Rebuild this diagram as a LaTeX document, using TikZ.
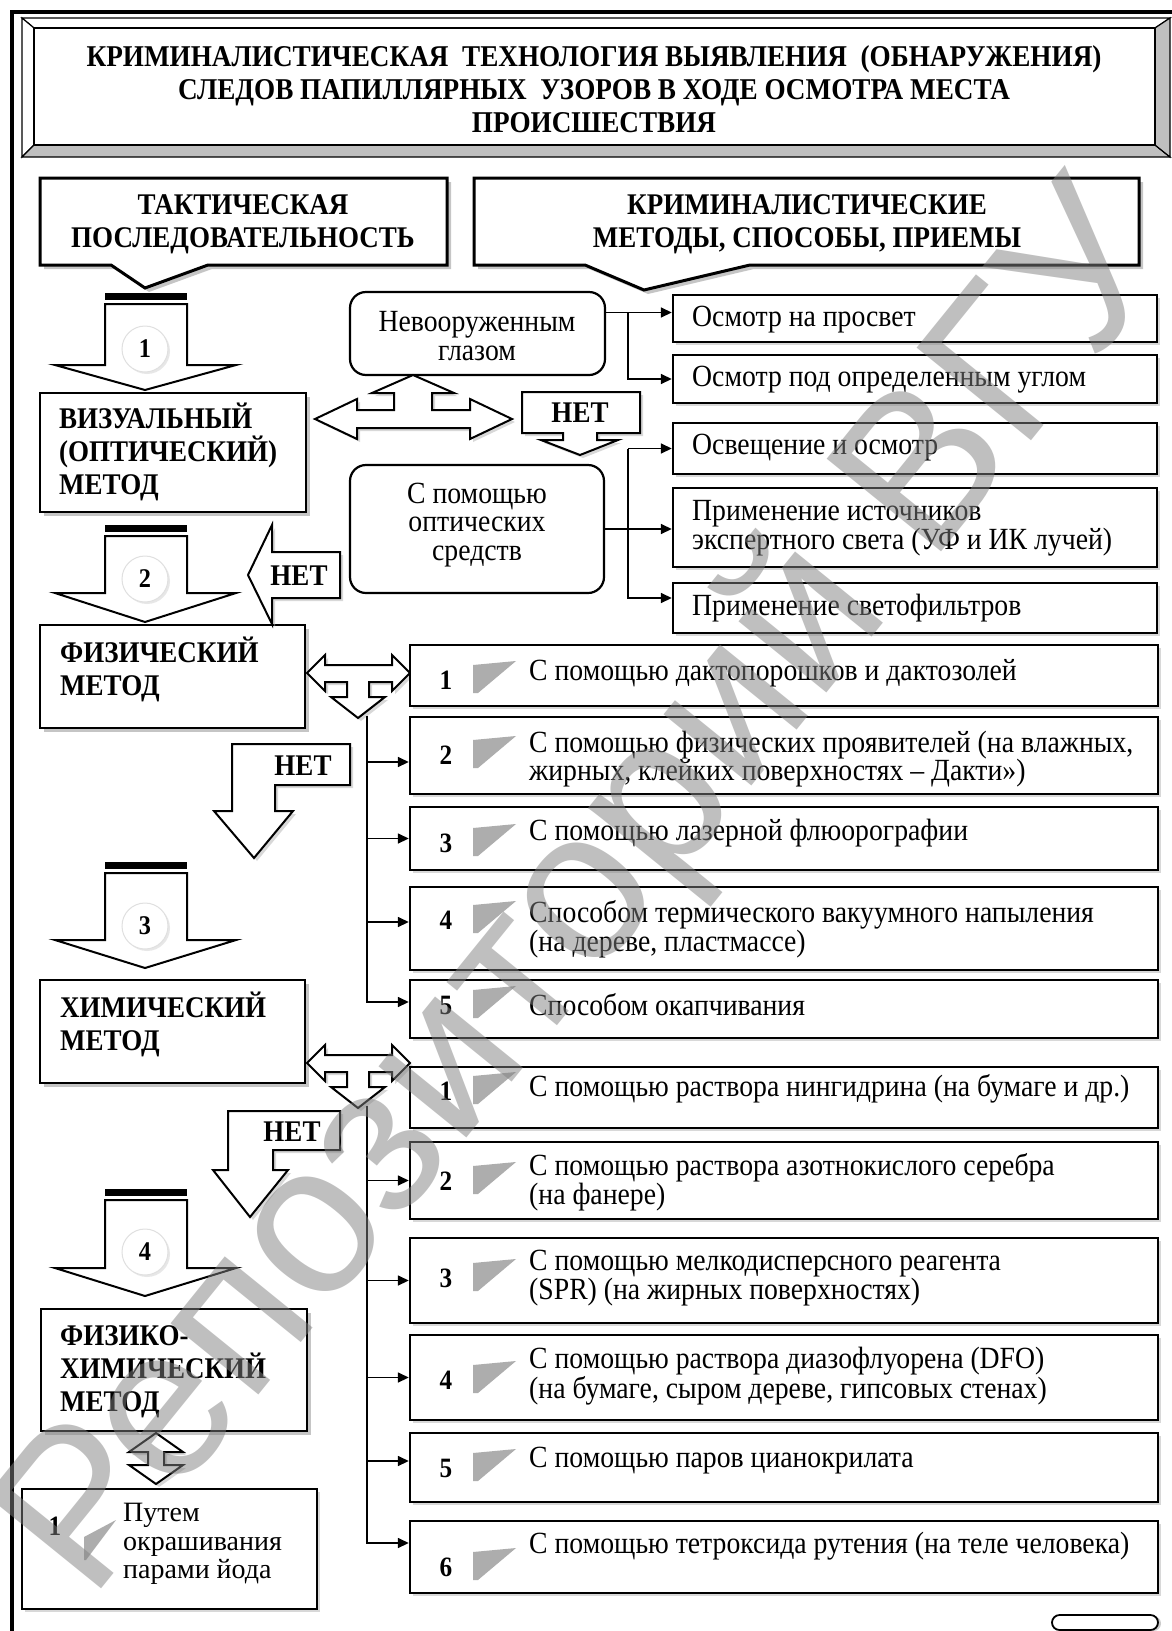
\documentclass[tikz,border=0pt]{standalone}
\usepackage{fontspec}
\setmainfont{Liberation Serif}[FakeStretch=0.9]
\newfontfamily\plainserif{Liberation Serif}
\newfontfamily\wmfont{Liberation Sans}
\usetikzlibrary{fit,shadows,arrows.meta,calc}
\begin{document}
\begin{tikzpicture}[x=1pt,y=-1pt,
  shd/.style={drop shadow={shadow xshift=4pt,shadow yshift=-4pt,fill=black!45}},
  shs/.style={drop shadow={shadow xshift=3pt,shadow yshift=-3pt,fill=black!30}},
  mbox/.style={draw,line width=2.6pt,fill=white,inner sep=0pt,shd},
  rbox/.style={draw,line width=2.4pt,fill=white,inner sep=0pt,shs},
  rnd/.style={draw,line width=2.2pt,fill=white,rounded corners=16pt,inner sep=0pt},
  callout/.style={draw,line width=3pt,fill=white,line join=miter,shd},
  blk/.style={draw,line width=2pt,fill=white,line join=miter},
  conn/.style={line width=1.6pt,-{Triangle[length=11pt,width=10pt]}},
  plain/.style={line width=1.6pt},
  ttl/.style={font=\fontsize{30.2}{33}\selectfont\bfseries,inner sep=0pt},
  hb/.style={font=\fontsize{30}{33}\selectfont\bfseries,inner sep=0pt},
  tx/.style={font=\fontsize{30.8}{28.5}\selectfont,inner sep=0pt},
  num/.style={font=\fontsize{28}{28}\selectfont\bfseries,inner sep=0pt},
  circ/.style={circle,minimum size=46pt,inner sep=0pt,draw=black!12,line width=1pt,fill=white,
    drop shadow={shadow xshift=2pt,shadow yshift=-2pt,fill=black!18},
    font=\fontsize{27}{27}\selectfont\bfseries},
  wedgec/.style={fill=black!32,draw=none},
]
\useasboundingbox (0,0) rectangle (1172,1631);

% outer frame
\draw[line width=4pt,line join=miter] (11.5,1631) -- (11.5,12) -- (1172,12);

% title bevel
\draw[line width=1.2pt,fill=white] (22,18) -- (1170,18) -- (1155,28) -- (34,28) -- cycle;
\draw[line width=1.2pt,fill=white] (22,18) -- (34,28) -- (34,145) -- (22,157) -- cycle;
\draw[line width=1.2pt,fill=black!25] (22,157) -- (34,145) -- (1155,145) -- (1170,157) -- cycle;
\draw[line width=1.2pt,fill=black!25] (1170,18) -- (1155,28) -- (1155,145) -- (1170,157) -- cycle;
\node[draw,line width=2pt,inner sep=0pt,fit={(34,28) (1155,145)}] (titlebox) {};
\node[ttl,align=center] (title) at (594,89) {КРИМИНАЛИСТИЧЕСКАЯ \ ТЕХНОЛОГИЯ ВЫЯВЛЕНИЯ \ (ОБНАРУЖЕНИЯ)\\СЛЕДОВ ПАПИЛЛЯРНЫХ \ УЗОРОВ В ХОДЕ ОСМОТРА МЕСТА\\ПРОИСШЕСТВИЯ};

% callouts
\draw[callout] (40,178) -- (447,178) -- (447,265) -- (208,265) -- (145,288) -- (111,265) -- (40,265) -- cycle;
\node[hb,align=center] (tact) at (243,224) {ТАКТИЧЕСКАЯ\\ПОСЛЕДОВАТЕЛЬНОСТЬ};
\draw[callout] (474,178) -- (1139,178) -- (1139,265) -- (750,265) -- (644,290) -- (585,265) -- (474,265) -- cycle;
\node[hb,align=center] (crim) at (807,224) {КРИМИНАЛИСТИЧЕСКИЕ\\МЕТОДЫ, СПОСОБЫ, ПРИЕМЫ};

% numbered block arrows: top, head base, tip, circle y, number
\newcommand\blockarrow[5]{%
  \fill (105,#1) rectangle (187,#1+7);
  \draw[blk] (105,#1+11) -- (187,#1+11) -- (187,#2) -- (236,#2) -- (145,#3) -- (55,#2) -- (105,#2) -- cycle;
  \node[circ] (circ#5) at (145,#4) {#5};
}
\blockarrow{293}{365}{390}{349}{1}
\blockarrow{525}{593}{622}{579}{2}
\blockarrow{862}{940}{968}{926}{3}
\blockarrow{1189}{1268}{1296}{1252}{4}

% method boxes
\node[mbox,fit={(40,393) (306,512)}] (vis) {};
\node[hb,align=left,anchor=west] (vist) at (59,452) {ВИЗУАЛЬНЫЙ\\(ОПТИЧЕСКИЙ)\\МЕТОД};
\node[mbox,fit={(40,625) (305,728)}] (phys) {};
\node[hb,align=left,anchor=west] (physt) at (60,669) {ФИЗИЧЕСКИЙ\\МЕТОД};
\node[mbox,fit={(40,980) (305,1083)}] (chem) {};
\node[hb,align=left,anchor=west] (chemt) at (60,1024) {ХИМИЧЕСКИЙ\\МЕТОД};
\node[mbox,fit={(41,1309) (307,1431)}] (pc) {};
\node[hb,align=left,anchor=west] (pct) at (60,1372) {ФИЗИКО-\\ХИМИЧЕСКИЙ\\МЕТОД};

% rounded boxes
\node[rnd,fit={(350,292) (605,375)}] (nev) {};
\node[tx,align=center] (nevt) at (477,336) {Невооруженным\\глазом};
\node[rnd,fit={(350,465) (604,593)}] (opt) {};
\node[tx,align=center] (optt) at (477,525) {С помощью\\оптических\\средств};

% right upper boxes
\node[rbox,fit={(673,295) (1157,342)}] (R1) {};
\node[tx,anchor=west] (R1t) at (692,320) {Осмотр на просвет};
\node[rbox,fit={(673,355) (1157,403)}] (R2) {};
\node[tx,anchor=west] (R2t) at (692,380) {Осмотр под определенным углом};
\node[rbox,fit={(673,423) (1157,474)}] (R3) {};
\node[tx,anchor=west] (R3t) at (692,448) {Освещение и осмотр};
\node[rbox,fit={(673,488) (1157,567)}] (R4) {};
\node[tx,anchor=west,align=left] (R4t) at (692,528) {Применение источников\\экспертного света (УФ и ИК лучей)};
\node[rbox,fit={(673,583) (1157,633)}] (R5) {};
\node[tx,anchor=west] (R5t) at (692,608) {Применение светофильтров};

% connectors upper
\coordinate (ob) at (628,0);
\coordinate (e1) at ([yshift=21pt]nev.east);
\coordinate (a1) at ([yshift=6pt]R1.west);
\draw[plain] (e1) -- (e1 -| ob);
\draw[conn] (a1 -| ob) -- (a1);
\draw[conn] (e1 -| ob) |- (R2.west);
\draw[conn] (opt.east) -- (opt.east -| R4.west);
\coordinate (a5) at ([yshift=10pt]R5.west);
\draw[conn] (R3.west -| ob) -- (R3.west);
\draw[conn] (R3.west -| ob) |- (a5);

% left-right-up arrow (visual)
\draw[blk,shs] (315,419) -- (357,399) -- (357,410) -- (394,410) -- (394,393) -- (372,393) -- (413,375)
  -- (454,393) -- (432,393) -- (432,410) -- (470,410) -- (470,399) -- (512,419) -- (470,439)
  -- (470,428) -- (357,428) -- (357,439) -- cycle;

% NET 1 (down arrow callout)
\draw[blk,shs] (522,392) -- (640,392) -- (640,433) -- (597,433) -- (597,440) -- (618,440) -- (580,455)
  -- (541,440) -- (563,440) -- (563,433) -- (522,433) -- cycle;
\node[hb] (net1) at (580,413) {НЕТ};

% NET 2 (left arrow)
\draw[blk,shs] (340,552) -- (272,552) -- (272,525) -- (248,575) -- (272,624) -- (272,598) -- (340,598) -- cycle;
\node[hb] (net2) at (299,576) {НЕТ};

% NET 3 (bent down arrow)
\draw[blk,shs] (232,744) -- (350,744) -- (350,785) -- (275,785) -- (275,811) -- (293,811) -- (254,858)
  -- (214,811) -- (232,811) -- cycle;
\node[hb] (net3) at (303,766) {НЕТ};

% NET 4
\draw[blk,shs] (228,1111) -- (340,1111) -- (340,1150) -- (273,1150) -- (273,1170) -- (288,1170) -- (250,1217)
  -- (213,1170) -- (228,1170) -- cycle;
\node[hb] (net4) at (292,1132) {НЕТ};

% left-right-down arrows
\newcommand\lrdarrow[1]{%
  \draw[blk,shs] (307,#1) -- (325,#1-18) -- (325,#1-8) -- (392,#1-8) -- (392,#1-18) -- (410,#1)
    -- (392,#1+18) -- (392,#1+9) -- (369,#1+9) -- (369,#1+24) -- (385,#1+24) -- (358,#1+45)
    -- (331,#1+24) -- (347,#1+24) -- (347,#1+9) -- (325,#1+9) -- (325,#1+18) -- cycle;
}
\lrdarrow{673}
\lrdarrow{1063}

% up-down arrow
\draw[blk,shs] (156,1433) -- (183,1452) -- (164,1452) -- (164,1465) -- (183,1465) -- (156,1484)
  -- (129,1465) -- (148,1465) -- (148,1452) -- (129,1452) -- cycle;

% numbered boxes: name, top, bottom, num y, text y, number, text
\newcommand\nbox[7]{%
  \node[rbox,fit={(410,#2) (1158,#3)}] (#1) {};
  \fill[wedgec] (473,#4-15) -- (516,#4-19) -- (478,#4+13) -- (473,#4+13) -- cycle;
  \node[num] (#1n) at (446,#4) {#6};
  \node[tx,anchor=west,align=left] (#1t) at (529,#5) {#7};
}
\nbox{P1}{645}{706}{680}{673}{1}{С помощью дактопорошков и дактозолей}
\nbox{P2}{717}{794}{755}{759}{2}{С помощью физических проявителей (на влажных,\\жирных, клейких поверхностях – Дакти»)}
\nbox{P3}{807}{870}{843}{833}{3}{С помощью лазерной флюорографии}
\nbox{P4}{887}{970}{920}{929}{4}{Способом термического вакуумного напыления\\(на дереве, пластмассе)}
\nbox{P5}{980}{1038}{1005}{1005}{5}{Способом окапчивания}

\nbox{C1}{1067}{1128}{1091}{1089}{1}{С помощью раствора нингидрина (на бумаге и др.)}
\nbox{C2}{1142}{1219}{1181}{1182}{2}{С помощью раствора азотнокислого серебра\\(на фанере)}
\nbox{C3}{1238}{1323}{1278}{1278}{3}{С помощью мелкодисперсного реагента\\(SPR) (на жирных поверхностях)}
\nbox{C4}{1335}{1420}{1380}{1376}{4}{С помощью раствора диазофлуорена (DFO)\\(на бумаге, сыром дереве, гипсовых стенах)}
\nbox{C5}{1433}{1502}{1468}{1461}{5}{С помощью паров цианокрилата}
\nbox{C6}{1521}{1593}{1567}{1546}{6}{С помощью тетроксида рутения (на теле человека)}

% physical connectors
\coordinate (pt) at (367,716);
\coordinate (p2) at ([yshift=-6.5pt]P2.west);
\coordinate (p4) at ([yshift=6.5pt]P4.west);
\coordinate (p5) at ([yshift=7pt]P5.west);
\draw[conn] (pt) |- (p5);
\draw[conn] (pt |- p2) -- (p2);
\draw[conn] (pt |- P3.west) -- (P3.west);
\draw[conn] (pt |- p4) -- (p4);

% chemical connectors
\coordinate (ct) at (367,1106);
\coordinate (c5) at ([yshift=6.5pt]C5.west);
\coordinate (c6) at ([yshift=14pt]C6.west);
\draw[conn] (ct) |- (c6);
\draw[conn] (ct |- C2.west) -- (C2.west);
\draw[conn] (ct |- C3.west) -- (C3.west);
\draw[conn] (ct |- C4.west) -- (C4.west);
\draw[conn] (ct |- c5) -- (c5);

% iodine box
\node[rbox,fit={(22,1489) (317,1609)}] (iod) {};
\fill[wedgec] (84,1537) -- (116,1520) -- (86,1560) -- (84,1560) -- cycle;
\node[num] (iodn) at (55,1526) {1};
\node[inner sep=0pt,anchor=west,align=left,font=\plainserif\fontsize{28}{28.5}\selectfont] (iodt) at (123,1544) {Путем\\окрашивания\\парами йода};

% small oval
\node[draw,line width=1.8pt,fill=white,rounded corners=7.5pt,inner sep=0pt,
  drop shadow={shadow xshift=3pt,shadow yshift=-1pt,fill=black!40},fit={(1052,1615) (1158,1630)}] (oval) {};

% watermark
\node[rotate=51,inner sep=0pt,text=black!50,text opacity=0.5,font=\wmfont\fontsize{214}{214}\selectfont] (wm) at (590,895) {Репозиторий ВГУ};
\end{tikzpicture}
\end{document}
